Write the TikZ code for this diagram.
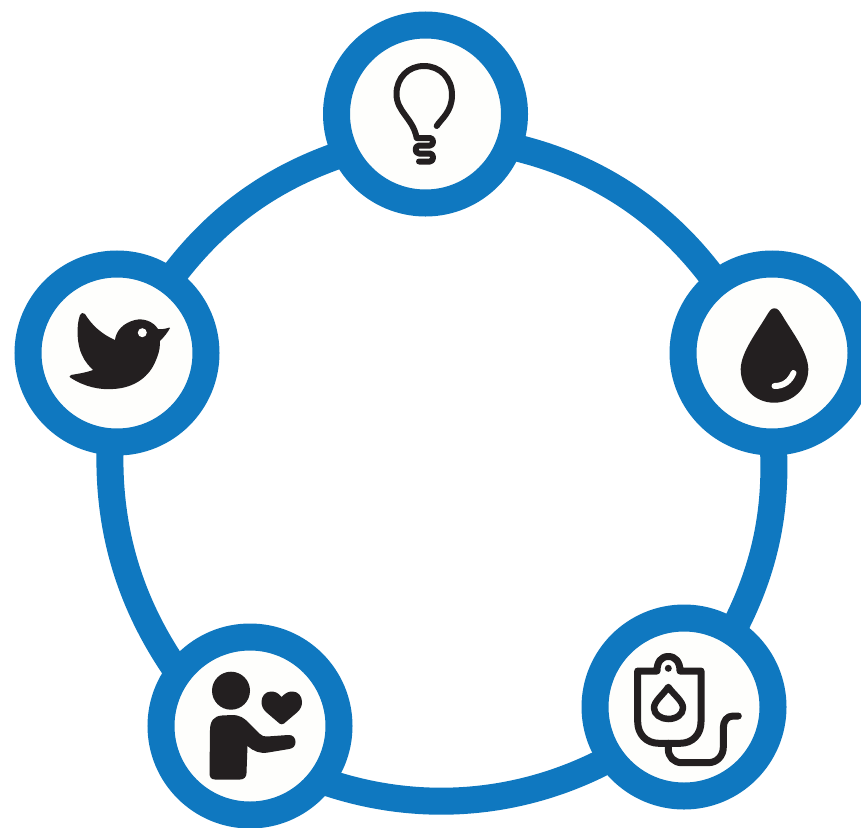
\documentclass[tikz,border=0pt]{standalone}
\usepackage{tikz}
\usetikzlibrary{backgrounds}
\definecolor{ringblue}{HTML}{0F78C0}
\definecolor{discwhite}{HTML}{FEFEFC}
\definecolor{iconblack}{HTML}{231F20}
\tikzset{
	spot/.style={circle, draw=ringblue, line width=27pt, fill=discwhite, minimum size=178pt, inner sep=0pt},
	ringline/.style={draw=ringblue, line width=27pt, looseness=0.87, shorten <=-8pt, shorten >=-8pt},
	iconline/.style={draw=iconblack, line width=6pt, line cap=round, line join=round},
	iconfill/.style={fill=iconblack}
}

\begin{document}
\begin{tikzpicture}[x=1pt, y=-1pt]
		%%%%% START %%%%%
		\useasboundingbox (0, 0) rectangle (861, 827);
		
		\node[spot] (idea) at (425.5, 114) {};
		\node[spot] (drop) at (772, 353) {};
		\node[spot] (bag) at (684, 707) {};
		\node[spot] (carer) at (250, 726) {};
		\node[spot] (bird) at (117, 353) {};
		
		\begin{scope}[on background layer]
			\draw[ringline] (idea.-20.6) to[bend left=20] (drop.128.7);
			\draw[ringline] (drop.-89.4) to[bend left=15] (bag.58.2);
			\draw[ringline] (bag.-146.3) to[bend left=23] (carer.-35.4);
			\draw[ringline] (carer.141.5) to[bend left=18] (bird.-94);
			\draw[ringline] (bird.54) to[bend left=17] (idea.205);
		\end{scope}
		
		% bulb
		\draw[iconline] (436.7, 126) .. controls (441, 119) and (452, 112) .. (452, 95)
			.. controls (452, 78) and (440, 66) .. (424, 66)
			.. controls (408, 66) and (396.5, 78) .. (396.5, 94)
			.. controls (396.5, 112) and (413, 118) .. (416.7, 138)
			-- (430, 138) .. controls (434, 138) and (434, 145.5) .. (430, 145.5)
			-- (419, 145.5) .. controls (414.5, 145.5) and (414.5, 153.5) .. (419, 153.5)
			-- (430, 153.5) .. controls (434, 153.5) and (434, 161.5) .. (430, 161.5)
			-- (419, 161.5);
		
		% bird
		\fill[iconfill] (169.5, 327.5) .. controls (165, 329) and (161, 329.5) .. (158, 329)
			.. controls (153, 321) and (143, 318) .. (135, 320)
			.. controls (123, 323) and (116, 331) .. (115, 340)
			.. controls (101, 334) and (91, 324) .. (85, 314)
			.. controls (83, 312) and (81, 313) .. (80, 315)
			.. controls (76, 326) and (77, 345) .. (82, 355)
			.. controls (85, 362) and (90, 367) .. (93, 370)
			.. controls (85, 373) and (76, 374) .. (71, 375)
			.. controls (69, 376) and (69, 377) .. (71, 378)
			.. controls (85, 387) and (100, 390) .. (113, 389)
			.. controls (135, 388) and (150, 376) .. (156, 360)
			.. controls (160, 351) and (160, 345) .. (160, 341)
			.. controls (164, 337) and (168, 332) .. (170, 328)
			-- cycle;
		\fill[discwhite] (142.3, 332.7) circle[radius=4.5];
		
		% drop
		\fill[iconfill] (774.3, 308.3) .. controls (778, 308) and (780, 312) .. (782, 315)
			.. controls (792, 332) and (808, 352) .. (808.3, 369)
			.. controls (808.5, 388) and (793, 402.7) .. (774.3, 402.7)
			.. controls (755, 402.7) and (740.5, 388) .. (740.7, 369)
			.. controls (741, 352) and (757, 332) .. (767, 315)
			.. controls (769, 312) and (771, 308) .. (774.3, 308.3) -- cycle;
		\draw[discwhite, line width=6pt, line cap=round] (793.5, 373) .. controls (790, 381) and (784, 386) .. (774.5, 386);
		
		% bag
		\draw[iconline, line width=7pt] (637.7, 671) -- (657, 671)
			.. controls (657, 662) and (661, 656.5) .. (668.3, 656.5)
			.. controls (675.5, 656.5) and (680, 662) .. (680, 671)
			-- (701, 671) -- (701, 721.7)
			.. controls (701, 734) and (693, 743.3) .. (680, 743.3)
			-- (659, 743.3)
			.. controls (646, 743.3) and (637.7, 734) .. (637.7, 721.7) -- cycle;
		\fill[iconfill] (668.3, 668.3) circle[radius=3.5];
		\draw[iconline, line width=6.5pt] (668.3, 687) .. controls (674, 695) and (683, 701) .. (683, 708)
			.. controls (683, 714.5) and (676, 719) .. (668.3, 719)
			.. controls (661, 719) and (654, 714.5) .. (654, 708)
			.. controls (654, 701) and (663, 695) .. (668.3, 687) -- cycle;
		\draw[iconline, line width=7pt] (668.3, 743.3) -- (668.3, 749)
			.. controls (668.3, 757) and (674, 762.7) .. (682, 762.7)
			-- (708, 762.7)
			.. controls (717, 762.7) and (723.3, 756) .. (723.3, 747)
			-- (723.3, 728)
			.. controls (723.3, 721) and (727, 716) .. (733, 716) -- (738.3, 716);
		
		% person
		\fill[iconfill] (231, 690.7) circle[radius=19];
		\fill[iconfill] (281.7, 697) .. controls (278, 692.5) and (274.5, 691.5) .. (271, 691.5)
			.. controls (265, 691.5) and (261.5, 696.5) .. (261.5, 702)
			.. controls (261.5, 706) and (263, 709) .. (266, 712)
			-- (279.5, 723.5) .. controls (281, 724.5) and (282.5, 724.5) .. (284, 723.5)
			-- (297.5, 712) .. controls (300.5, 709) and (302, 706) .. (302, 702)
			.. controls (302, 696.5) and (298.5, 691.5) .. (292.5, 691.5)
			.. controls (289, 691.5) and (285.5, 692.5) .. (281.7, 697) -- cycle;
		\fill[iconfill] (222, 715.5) -- (232, 715)
			.. controls (240, 715) and (244, 718) .. (249, 723)
			-- (260, 734) .. controls (262, 736) and (264, 736.5) .. (267, 736.5)
			-- (288, 735) .. controls (293, 734.5) and (295.5, 738) .. (295.5, 742)
			.. controls (295.5, 746) and (293, 748.5) .. (289, 749)
			-- (268, 752.5) .. controls (260, 754) and (253, 751) .. (247.5, 746)
			-- (246.5, 773) .. controls (246.5, 777) and (244, 779.5) .. (240, 779.5)
			-- (215, 779.5) .. controls (211, 779.5) and (209.5, 777) .. (209.5, 773)
			-- (210, 730) .. controls (210, 721) and (214, 716) .. (222, 715.5) -- cycle;
		%%%%% END %%%%%
	\end{tikzpicture}
\end{document}
